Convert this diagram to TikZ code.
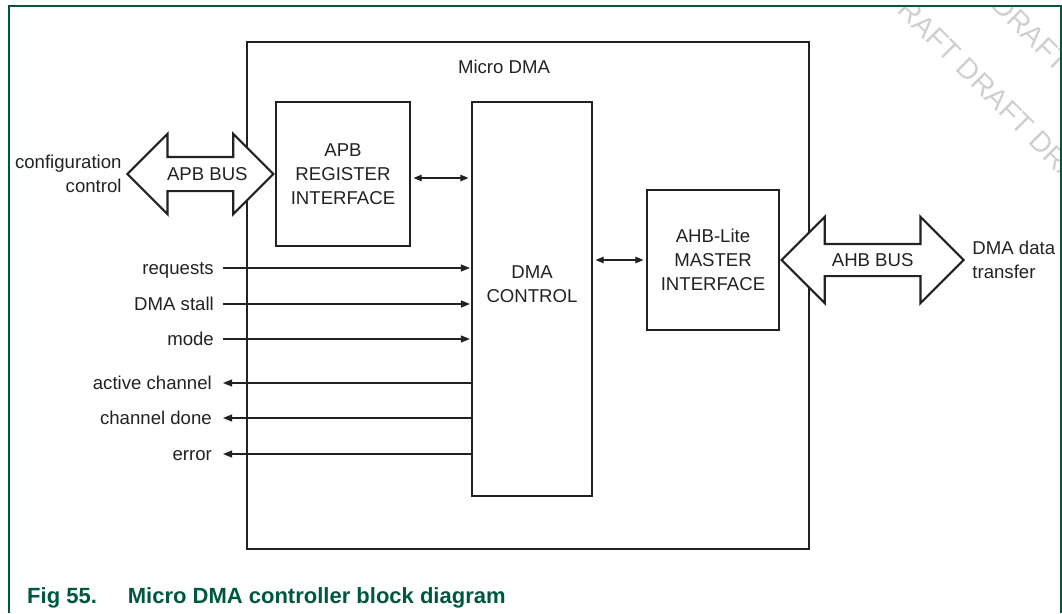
\documentclass[tikz,border=0pt]{standalone}
\usepackage{fontspec}
\setmainfont{Liberation Sans}
\usetikzlibrary{arrows.meta,positioning,shapes.arrows}
\usepackage{xcolor}
\definecolor{nxpgreen}{HTML}{00573F}
\definecolor{ink}{HTML}{222222}
\definecolor{wmark}{HTML}{CFCFCF}
\tikzset{
  txt/.style={font=\fontsize{18.6}{24}\selectfont, text=ink, align=center, inner sep=0pt},
  blockbox/.style={draw=ink, line width=2.2pt, fill=white, txt},
  busarrow/.style={shape=double arrow, draw=ink, line width=2.2pt, fill=white, txt, text height=13pt, text depth=0pt, inner xsep=-6pt, double arrow tip angle=90},
  siglabel/.style={txt, anchor=east, text height=13pt, text depth=0pt},
  sig/.style={draw=ink, line width=1.1pt},
  sigarrow/.style={sig, -{Triangle[length=9pt,width=7pt]}},
  linkarrow/.style={sig, {Triangle[length=8pt,width=6.5pt]}-{Triangle[length=8pt,width=6.5pt]}, shorten <=2.5pt, shorten >=2.5pt},
  frameline/.style={draw=nxpgreen, line width=1.3pt},
  watermark/.style={font=\fontsize{28.5}{28.5}\selectfont, text=wmark, rotate=-45, anchor=west, text height=20pt, text depth=0pt, inner sep=0pt}
}
\begin{document}
\begin{tikzpicture}[x=1pt, y=1pt]
  \useasboundingbox (0,0) rectangle (1062,-613);
  \begin{scope}
    \clip (9,-6) rectangle (1061,-613);
    \node[watermark] (wm1) at (852,146) {DRAFT DRAFT DRAFT DRAFT};
    \node[watermark] (wm2) at (816,83) {DRAFT DRAFT DRAFT DRAFT};
  \end{scope}
  \draw[frameline] (9,-613) -- (9,-6) -- (1061,-6) -- (1061,-613);

  \node[blockbox, minimum width=562pt, minimum height=507pt] (mdma) at (528,-295.5) {};
  \node[txt, text height=13pt, text depth=0pt] (title) at (504,-66.5) {Micro DMA};
  \node[blockbox, minimum width=134pt, minimum height=144pt] (apb) at (343,-174) {APB\\REGISTER\\INTERFACE};
  \node[blockbox, minimum width=120pt, minimum height=394pt] (ctrl) at (532,-299) {};
  \node[txt] (ctrltext) at ([yshift=14.5pt]ctrl.center) {DMA\\CONTROL};
  \node[blockbox, minimum width=132pt, minimum height=140pt] (ahb) at (713,-260) {AHB-Lite\\MASTER\\INTERFACE};

  \node[busarrow, minimum height=146pt, inner ysep=9.5pt, double arrow head extend=23pt, anchor=east] (apbbus) at (apb.west) {\hspace{14pt}APB BUS};
  \node[busarrow, minimum height=182pt, inner ysep=8.5pt, double arrow head extend=27pt, anchor=west] (ahbbus) at (ahb.east) {AHB BUS};
  \node[txt, align=right, anchor=east] (config) at ([xshift=-4pt]apbbus.west) {configuration\\control};
  \node[txt, align=left, anchor=west] (xfer) at ([xshift=7pt]ahbbus.east) {DMA data\\transfer};

  \draw[linkarrow] ([yshift=-4pt]apb.east) -- ([yshift=-4pt]apb.east -| ctrl.west);
  \draw[linkarrow] (ahb.west -| ctrl.east) -- (ahb.west);

  \node[siglabel] (req) at (214,-268) {requests};
  \node[siglabel] (stall) at (214,-304) {DMA stall};
  \node[siglabel] (mode) at (214,-339) {mode};
  \node[siglabel] (active) at (212,-383) {active channel};
  \node[siglabel] (done) at (212,-418) {channel done};
  \node[siglabel] (err) at (212,-454) {error};

  \draw[sigarrow, shorten >=1pt] ([xshift=9pt]req.east) -- (req.east -| ctrl.west);
  \draw[sigarrow, shorten >=1pt] ([xshift=9pt]stall.east) -- (stall.east -| ctrl.west);
  \draw[sigarrow, shorten >=1pt] ([xshift=9pt]mode.east) -- (mode.east -| ctrl.west);
  \draw[sigarrow] (active.east -| ctrl.west) -- ([xshift=11pt]active.east);
  \draw[sigarrow] (done.east -| ctrl.west) -- ([xshift=11pt]done.east);
  \draw[sigarrow] (err.east -| ctrl.west) -- ([xshift=11pt]err.east);

  \node[font=\fontsize{22}{22}\selectfont\bfseries, text=nxpgreen, anchor=base west, inner sep=0pt] (caption) at (27,-603) {Fig 55.\hspace{31pt}Micro DMA controller block diagram};
\end{tikzpicture}
\end{document}
